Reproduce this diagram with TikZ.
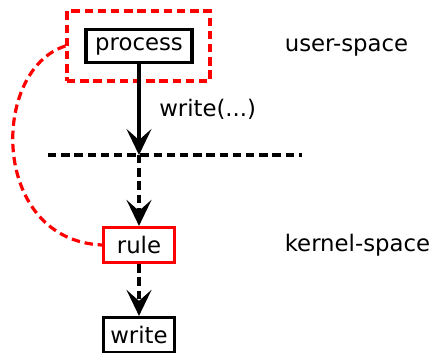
\documentclass[tikz,border=0pt]{standalone}
\usepackage{fontspec}
\setmainfont{DejaVu Sans}
\usetikzlibrary{arrows.meta}

\tikzset{
        block/.style={draw, line width=1.6pt, inner sep=0pt, minimum width=35.5pt, minimum height=17.5pt},
        dashline/.style={line width=1.6pt, dash pattern=on 4.2pt off 2.4pt},
        tip/.style={-{Stealth[length=13pt, width=12.5pt, inset=5.5pt]}}
}

\begin{document}
\begin{tikzpicture}[x=0.5pt, y=-0.5pt, font=\fontsize{11.4}{13.5}\selectfont]
        \useasboundingbox (0, 0) rectangle (434, 353);

        \node[draw=red, dashline, minimum width=71.5pt, minimum height=35pt] (userbox) at (138.5, 46) {};
        \node[block, minimum width=53pt, minimum height=16.5pt] (process) at (139, 46) {process};
        \node[block, draw=red] (rule) at (139, 245) {rule};
        \node[block] (write) at (139, 335) {write};

        \node (user) at (346.5, 47) {user-space};
        \node (kernel) at (357.5, 245) {kernel-space};

        \coordinate (left) at (48, 155);
        \coordinate (right) at (302, 155);
        \coordinate (border) at (139, 155);

        \draw[dashline] (left) -- (right);
        \draw[tip, line width=1.6pt] (process) -- node[right, xshift=6pt] {write(...)} (border);
        \draw[tip, dashline] (border) -- (rule);
        \draw[tip, dashline] (rule) -- (write);

        \draw[red, dashline] (userbox.west) .. controls (-10, 70) and (-10, 240) .. (rule.west);
    \end{tikzpicture}
\end{document}
